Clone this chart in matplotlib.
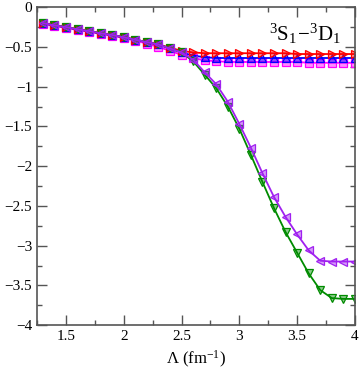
import matplotlib
matplotlib.use('Agg')
import matplotlib.pyplot as plt
from matplotlib.ticker import MultipleLocator, FuncFormatter

plt.rcParams['font.family'] = ['Liberation Serif', 'DejaVu Serif']
plt.rcParams['mathtext.fontset'] = 'custom'
plt.rcParams['mathtext.rm'] = 'Liberation Serif'
plt.rcParams['mathtext.it'] = 'Liberation Serif:italic'

# cutoff values
lam = [1.3, 1.4, 1.5, 1.6, 1.7, 1.8, 1.9, 2.0, 2.1, 2.2, 2.3, 2.4, 2.5, 2.6,
       2.7, 2.8, 2.9, 3.0, 3.1, 3.2, 3.3, 3.4, 3.5, 3.6, 3.7, 3.8, 3.9, 4.0]

start = [-0.20, -0.23, -0.25, -0.28, -0.30, -0.33, -0.35, -0.38, -0.41, -0.44, -0.47]

red = start + [-0.51, -0.55, -0.57, -0.58, -0.58, -0.58, -0.58, -0.58, -0.58, -0.58,
               -0.58, -0.59, -0.59, -0.59, -0.59, -0.59, -0.59]
blue = start + [-0.52, -0.57, -0.61, -0.63, -0.64, -0.64, -0.64, -0.64, -0.64, -0.64,
                -0.64, -0.64, -0.64, -0.64, -0.64, -0.64, -0.64]
magenta = [-0.21, -0.24, -0.26, -0.29, -0.31, -0.34, -0.36, -0.39, -0.42, -0.46, -0.50,
           -0.55, -0.60, -0.64, -0.67, -0.68, -0.69, -0.69, -0.69, -0.69, -0.69,
           -0.69, -0.69, -0.70, -0.70, -0.70, -0.70, -0.70]
purple = start + [-0.52, -0.57, -0.66, -0.82, -0.97, -1.19, -1.47, -1.77, -2.09, -2.39,
                  -2.64, -2.86, -3.06, -3.19, -3.20, -3.20, -3.20]
green = start + [-0.52, -0.57, -0.68, -0.85, -1.02, -1.25, -1.53, -1.86, -2.20, -2.53,
                 -2.83, -3.09, -3.35, -3.56, -3.66, -3.67, -3.67]

series = [
    (magenta, '#ff00ff', 's'),
    (blue, '#0000ff', '^'),
    (red, '#ff0000', '>'),
    (green, '#008b00', 'v'),
    (purple, '#a020f0', '<'),
]

fig = plt.figure(figsize=(3.6, 3.75), dpi=100)
ax = fig.add_axes([0.103, 0.133, 0.883, 0.848])

for vals, col, mk in series:
    ax.plot(lam, vals, color=col, lw=1.3, marker=mk, ms=5.8,
            mec=col, mfc=matplotlib.colors.to_rgba(col, 0.45), mew=0.9)

ax.set_xlim(1.25, 4.0)
ax.set_ylim(-4, 0)
ax.xaxis.set_major_locator(MultipleLocator(0.5))
ax.xaxis.set_minor_locator(MultipleLocator(0.25))
ax.yaxis.set_major_locator(MultipleLocator(0.5))
ax.yaxis.set_minor_locator(MultipleLocator(0.25))
ax.xaxis.set_major_formatter(FuncFormatter(lambda v, p: '%g' % v))
ax.yaxis.set_major_formatter(FuncFormatter(lambda v, p: ('%g' % v).replace('-', '\u2212')))
ax.tick_params(which='both', direction='in', top=True, right=True, labelsize=11,
               color='#555555', width=1.0)
ax.tick_params(which='major', length=7)
ax.tick_params(which='minor', length=3.5)
for s in ax.spines.values():
    s.set_color('#555555')
    s.set_linewidth(1.2)

ax.set_xlabel(r'$\Lambda$ (fm$^{-1}$)', fontsize=12, labelpad=4)
ax.text(0.955, 0.955, r'$^3\mathrm{S}_1\!-\!^3\mathrm{D}_1$', transform=ax.transAxes,
        ha='right', va='top', fontsize=15)

fig.savefig('out.png', dpi=100)
